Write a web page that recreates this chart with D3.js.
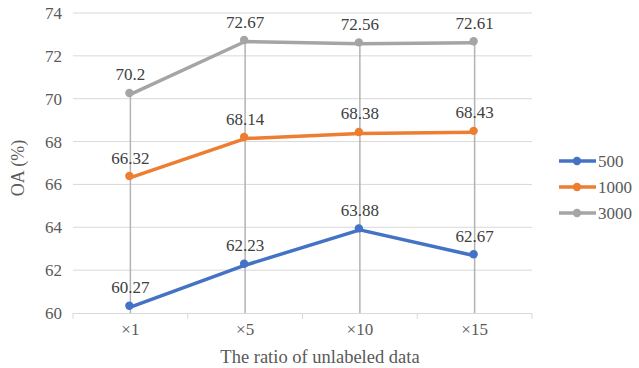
<!DOCTYPE html>
<html>
<head>
<meta charset="utf-8">
<script src="https://cdn.jsdelivr.net/npm/d3@7"></script>
<style>
  html, body { margin: 0; padding: 0; background: #fff; }
  svg { display: block; }
  svg text { font-family: "Liberation Serif", "Times New Roman", serif; font-size: 17px; }
</style>
</head>
<body>
<svg id="chart" width="639" height="368"></svg>
<script>
// Categories and series
const categories = ["×1", "×5", "×10", "×15"];
const seriesNames = ["500", "1000", "3000"];
const values500 = [60.27, 62.23, 63.88, 62.67];
const values1000 = [66.32, 68.14, 68.38, 68.43];
const values3000 = [70.2, 72.67, 72.56, 72.61];
const yTicks = [60, 62, 64, 66, 68, 70, 72, 74];
const colors = ["#4472C4", "#ED7D31", "#A5A5A5"];

const series = [values500, values1000, values3000].map((v, i) => ({
  name: seriesNames[i], values: v, color: colors[i]
}));

const svg = d3.select("#chart");
const plot = { left: 73, right: 532, top: 13, bottom: 313 };

const x = d3.scaleBand().domain(categories).range([plot.left, plot.right]).padding(0);
const y = d3.scaleLinear().domain([60, 74]).range([plot.bottom, plot.top]);
const cx = c => x(c) + x.bandwidth() / 2;

// Horizontal gridlines
svg.append("g").selectAll("line").data(yTicks.filter(t => t !== 60)).join("line")
  .attr("x1", plot.left).attr("x2", plot.right)
  .attr("y1", d => y(d)).attr("y2", d => y(d))
  .attr("stroke", "#d9d9d9").attr("stroke-width", 1);

// Y axis labels
const yAxis = svg.append("g").attr("transform", `translate(${plot.left},0)`)
  .call(d3.axisLeft(y).tickValues(yTicks).tickSize(0).tickPadding(11));
yAxis.attr("font-family", null).attr("font-size", null);
yAxis.select(".domain").remove();
yAxis.selectAll("text").attr("fill", "#595959");

// X axis with tick marks between categories
const xAxisG = svg.append("g").attr("transform", `translate(0,${plot.bottom})`);
xAxisG.append("line").attr("x1", plot.left).attr("x2", plot.right)
  .attr("y1", 0.5).attr("y2", 0.5).attr("stroke", "#d9d9d9");
const bounds = categories.map(c => x(c)).concat([plot.right]);
xAxisG.selectAll("line.tick").data(bounds).join("line").attr("class", "tick")
  .attr("x1", d => d).attr("x2", d => d).attr("y1", 0).attr("y2", 6)
  .attr("stroke", "#d9d9d9");
xAxisG.selectAll("text").data(categories).join("text")
  .attr("x", d => cx(d)).attr("y", 22).attr("text-anchor", "middle")
  .attr("fill", "#595959").text(d => d);

// Drop lines from the highest series down to the axis
svg.append("g").selectAll("line").data(categories).join("line")
  .attr("x1", d => cx(d)).attr("x2", d => cx(d))
  .attr("y1", (d, i) => y(d3.max(series, s => s.values[i])))
  .attr("y2", plot.bottom)
  .attr("stroke", "#b3b3b3").attr("stroke-width", 1.5);

// Lines, markers and data labels
const line = d3.line().x((d, i) => cx(categories[i])).y(d => y(d));
series.forEach(s => {
  const g = svg.append("g");
  g.append("path").datum(s.values).attr("d", line)
    .attr("fill", "none").attr("stroke", s.color).attr("stroke-width", 3.5)
    .attr("stroke-linejoin", "round");
  g.selectAll("circle").data(s.values).join("circle")
    .attr("cx", (d, i) => cx(categories[i]) - 1).attr("cy", d => y(d) - 1.5)
    .attr("r", 4.2).attr("fill", s.color);
  g.selectAll("text").data(s.values).join("text")
    .attr("x", (d, i) => cx(categories[i])).attr("y", d => y(d) - 14)
    .attr("text-anchor", "middle").attr("fill", "#404040")
    .text(d => d);
});

// Legend
const legend = svg.append("g");
series.forEach((s, i) => {
  const ly = 161 + i * 26;
  legend.append("line").attr("x1", 559).attr("x2", 596).attr("y1", ly).attr("y2", ly)
    .attr("stroke", s.color).attr("stroke-width", 3.5);
  legend.append("circle").attr("cx", 577).attr("cy", ly).attr("r", 4.2).attr("fill", s.color);
  legend.append("text").attr("x", 598).attr("y", ly + 6).attr("fill", "#595959")
    .text(s.name);
});

// Axis titles
svg.append("text").attr("transform", "translate(24,168) rotate(-90)")
  .attr("text-anchor", "middle").attr("fill", "#595959").style("font-size", "18px")
  .text("OA (%)");
svg.append("text").attr("x", 320).attr("y", 363)
  .attr("text-anchor", "middle").attr("fill", "#595959").style("font-size", "18.5px")
  .text("The ratio of unlabeled data");
</script>
</body>
</html>
